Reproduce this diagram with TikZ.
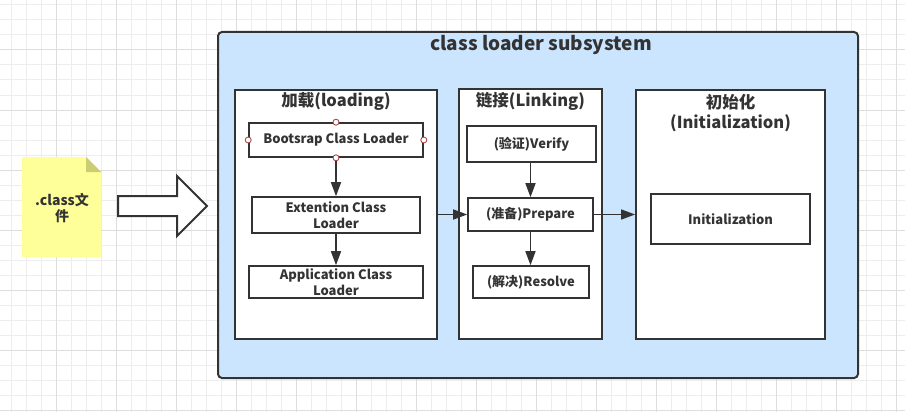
\documentclass[tikz,border=0pt]{standalone}
\usepackage{fontspec}
\setmainfont{Noto Sans CJK SC}
\usetikzlibrary{arrows.meta}
\definecolor{ln}{HTML}{333333}
\definecolor{gridc}{HTML}{EDEDED}
\definecolor{gridd}{HTML}{DDDDDD}
\definecolor{sysblue}{HTML}{CCE5FF}
\definecolor{notey}{HTML}{FFFF99}
\definecolor{notef}{HTML}{CCCC70}
\definecolor{pin}{HTML}{A33A3A}
\tikzset{
  frame/.style={draw=ln, line width=1.8pt, fill=white, inner sep=0pt},
  stepbox/.style={draw=ln, line width=1.6pt, fill=white, inner sep=0pt, align=center,
    text=ln, font=\fontsize{13}{15.5}\selectfont\bfseries},
  ttl/.style={text=ln, inner sep=0pt, align=center, font=\fontsize{16.5}{20}\selectfont\bfseries},
  conn/.style={draw=ln, line width=1.6pt, -{Triangle[width=10pt,length=14pt]}},
  pinc/.style={circle, draw=pin, fill=white, line width=0.8pt, minimum size=6pt, inner sep=0pt}
}
\begin{document}
\begin{tikzpicture}[x=1pt,y=-1pt]
\useasboundingbox (0,0) rectangle (905,412);
\fill[white] (0,0) rectangle (905,412);
% grid
\foreach \i in {0,...,59} \draw[gridc, line width=1pt] ({11.7+15*\i},0) -- ({11.7+15*\i},412);
\foreach \j in {0,...,27} \draw[gridc, line width=1pt] (0,{5+15*\j}) -- (905,{5+15*\j});
\foreach \i in {0,...,14} \draw[gridd, line width=1pt] ({56.7+60*\i},0) -- ({56.7+60*\i},412);
\foreach \j in {0,...,6} \draw[gridd, line width=1pt] (0,{50+60*\j}) -- (905,{50+60*\j});

% note
\fill[notey] (22,157) -- (86,157) -- (101,172) -- (101,257) -- (22,257) -- cycle;
\fill[notef] (86,157) -- (86,172) -- (101,172) -- cycle;
\node[text=ln, align=center, inner sep=0pt, font=\fontsize{14}{16}\selectfont\bfseries] (note) at (62,208) {.class文\\件};

% big arrow
\draw[ln, line width=2pt, fill=white, line join=miter] (118,196) -- (177,196) -- (177,176) -- (207,206) -- (177,236) -- (177,216) -- (118,216) -- cycle;

% container
\node[draw=ln, line width=2pt, fill=sysblue, rounded corners=4pt, minimum width=640pt, minimum height=346pt, inner sep=0pt] (sys) at (538,205) {};
\node[text=ln, inner sep=0pt, font=\fontsize{19}{23}\selectfont\bfseries] (systitle) at (541,45) {class loader subsystem};

% loading
\node[frame, minimum width=202pt, minimum height=249pt] (loading) at (336,214.5) {};
\node[ttl] (loadtitle) at (336,101) {加载(loading)};
\node[stepbox, minimum width=174pt, minimum height=34pt] (boot) at (336,140) {Bootsrap Class Loader};
\node[stepbox, minimum width=168pt, minimum height=36pt] (ext) at (336,215) {Extention Class\\Loader};
\node[stepbox, minimum width=174pt, minimum height=32pt] (app) at (336,282) {Application Class\\Loader};

% linking
\node[frame, minimum width=143pt, minimum height=250pt] (linking) at (530.5,214) {};
\node[ttl] (linktitle) at (530.5,101) {链接(Linking)};
\node[stepbox, minimum width=129pt, minimum height=36pt] (verify) at (531.5,144) {(验证)Verify};
\node[stepbox, minimum width=125pt, minimum height=33pt] (prepare) at (530.5,214.5) {(准备)Prepare};
\node[stepbox, minimum width=116pt, minimum height=32pt] (resolve) at (531,282) {(解决)Resolve};

% init
\node[frame, minimum width=189pt, minimum height=249pt] (init) at (730.5,214.5) {};
\node[ttl] (inittitle) at (730.5,113) {初始化\\(Initialization)};
\node[stepbox, minimum width=159pt, minimum height=50pt] (initbox) at (730.5,219) {Initialization};

% connectors
\draw[conn] (boot.south) -- (ext.north);
\draw[conn] (ext.south) -- (app.north);
\draw[conn] (verify.south -| prepare.north) -- (prepare.north);
\draw[conn] (prepare.south) -- (prepare.south |- resolve.north);
\draw[conn] (loading.east |- prepare.west) -- (prepare.west);
\draw[conn] (prepare.east) -- (init.west |- prepare.east);

% pins on bootstrap
\node[pinc] (p1) at (boot.north) {};
\node[pinc] (p2) at (boot.south) {};
\node[pinc] (p3) at (boot.west) {};
\node[pinc] (p4) at (boot.east) {};
\end{tikzpicture}
\end{document}
